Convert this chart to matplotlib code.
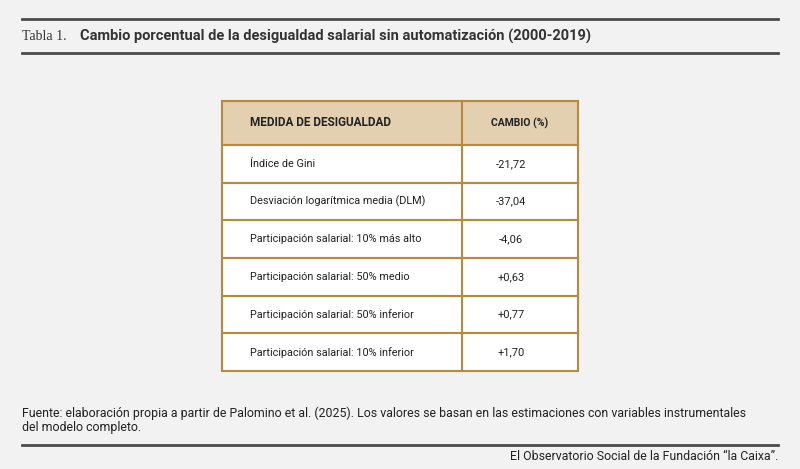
import matplotlib
matplotlib.use("Agg")
import matplotlib.pyplot as plt
from matplotlib.patches import Rectangle

header = ["MEDIDA DE DESIGUALDAD", "CAMBIO (%)"]
measures = ["Índice de Gini", "Desviación logarítmica media (DLM)",
            "Participación salarial: 10% más alto", "Participación salarial: 50% medio",
            "Participación salarial: 50% inferior", "Participación salarial: 10% inferior"]
changes = ["-21,72", "-37,04", "-4,06", "+0,63", "+0,77", "+1,70"]

plt.rcParams['font.family'] = ['Roboto', 'DejaVu Sans']
bg = "#f2f2f2"
fig = plt.figure(figsize=(8, 4.69), dpi=100, facecolor=bg)
ax = fig.add_axes([0, 0, 1, 1])
ax.set_xlim(0, 800); ax.set_ylim(469, 0); ax.axis("off")
ax.set_facecolor(bg)

dark = "#4a4a4a"
for y in (19, 53, 445):
    ax.plot([22, 778], [y, y], color=dark, lw=2)
ax.text(22, 36, "Tabla 1.", fontsize=10, color="#333", va="center", family=['Liberation Serif'])
ax.text(80, 36, "Cambio porcentual de la desigualdad salarial sin automatización (2000-2019)",
        fontsize=10.5, fontweight="bold", color="#333", va="center")

x0, xm, x1 = 222, 462, 578
hy0, hy1 = 101, 145
rh = (371 - hy1) / len(measures)
border = "#b98a3c"
ax.add_patch(Rectangle((x0, hy0), x1 - x0, hy1 - hy0, facecolor="#e3d0b0", edgecolor=border, lw=1.5))
ax.text(250, (hy0 + hy1) / 2, header[0], fontsize=8.5, fontweight="bold", color="#222", va="center")
ax.text(520, (hy0 + hy1) / 2, header[1], fontsize=7.5, fontweight="bold", color="#222", va="center", ha="center")
for i, (m, c) in enumerate(zip(measures, changes)):
    y = hy1 + i * rh
    ax.add_patch(Rectangle((x0, y), x1 - x0, rh, facecolor="white", edgecolor=border, lw=1.5))
    ax.text(250, y + rh / 2, m, fontsize=7.8, color="#222", va="center")
    ax.text(511, y + rh / 2, c, fontsize=8, color="#222", va="center", ha="center")
ax.plot([xm, xm], [hy0, 371], color=border, lw=1.5)

ax.text(22, 413, "Fuente: elaboración propia a partir de Palomino et al. (2025). Los valores se basan en las estimaciones con variables instrumentales",
        fontsize=8.9, color="#222", va="center")
ax.text(22, 428, "del modelo completo.", fontsize=8.9, color="#222", va="center")
ax.text(778, 457, "El Observatorio Social de la Fundación “la Caixa”.", fontsize=8.9, color="#222", va="center", ha="right")

fig.savefig("out.png", dpi=100, facecolor=bg)
